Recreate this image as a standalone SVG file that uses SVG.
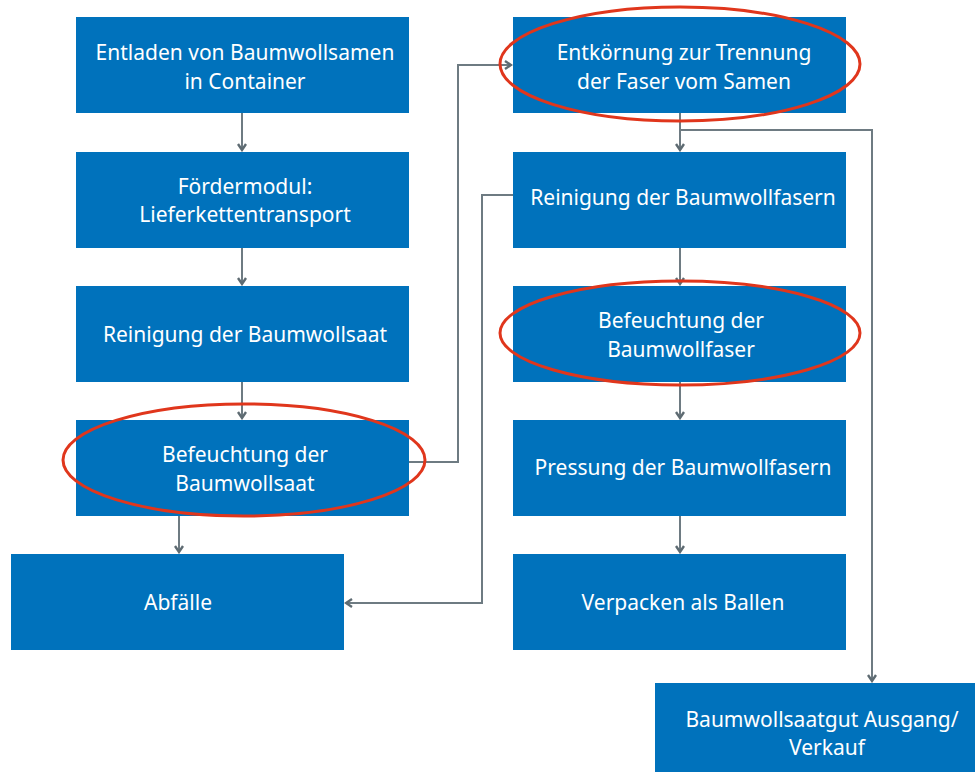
<svg xmlns="http://www.w3.org/2000/svg" width="975" height="772" viewBox="0 0 975 772">
<style>
.box{fill:#0072BC;}
.t{fill:#ffffff;font-family:"Noto Sans","Open Sans",sans-serif;font-size:21px;text-anchor:middle;dominant-baseline:central;}
.c{fill:none;stroke:#6E7B82;stroke-width:2;}
.hl{fill:none;stroke:#E0361C;stroke-width:3;}
</style>
<defs>
<marker id="a" viewBox="0 0 10 10" refX="8" refY="5" markerWidth="10" markerHeight="10" markerUnits="userSpaceOnUse" orient="auto">
<path d="M2,1 L8,5 L2,9" fill="none" stroke="#5E6B72" stroke-width="2.4"/>
</marker>
</defs>
<rect width="975" height="772" fill="#ffffff"/>
<g id="connectors">
<line class="c" x1="242" y1="113" x2="242" y2="150" marker-end="url(#a)"/>
<line class="c" x1="242" y1="248" x2="242" y2="284" marker-end="url(#a)"/>
<line class="c" x1="242" y1="382" x2="242" y2="418" marker-end="url(#a)"/>
<line class="c" x1="179" y1="516" x2="179" y2="552" marker-end="url(#a)"/>
<polyline class="c" points="409,462 458,462 458,65 511,65" marker-end="url(#a)"/>
<line class="c" x1="680" y1="113" x2="680" y2="150" marker-end="url(#a)"/>
<polyline class="c" points="680,130 872,130 872,681" marker-end="url(#a)"/>
<polyline class="c" points="513,195 482,195 482,603 346,603" marker-end="url(#a)"/>
<line class="c" x1="680" y1="248" x2="680" y2="284" marker-end="url(#a)"/>
<line class="c" x1="680" y1="382" x2="680" y2="418" marker-end="url(#a)"/>
<line class="c" x1="680" y1="516" x2="680" y2="552" marker-end="url(#a)"/>
</g>
<g id="n1"><rect class="box" x="76" y="17" width="333" height="96"/><text class="t" x="245" y="52">Entladen von Baumwollsamen</text><text class="t" x="245" y="81">in Container</text></g>
<g id="n2"><rect class="box" x="76" y="152" width="333" height="96"/><text class="t" x="245" y="186">Fördermodul:</text><text class="t" x="245" y="214">Lieferkettentransport</text></g>
<g id="n3"><rect class="box" x="76" y="286" width="333" height="96"/><text class="t" x="245" y="334">Reinigung der Baumwollsaat</text></g>
<g id="n4"><rect class="box" x="76" y="420" width="333" height="96"/><text class="t" x="245" y="454">Befeuchtung der</text><text class="t" x="245" y="483">Baumwollsaat</text></g>
<g id="n5"><rect class="box" x="11" y="554" width="333" height="96"/><text class="t" x="178" y="602">Abfälle</text></g>
<g id="n6"><rect class="box" x="513" y="17" width="333" height="96"/><text class="t" x="684" y="52">Entkörnung zur Trennung</text><text class="t" x="684" y="81">der Faser vom Samen</text></g>
<g id="n7"><rect class="box" x="513" y="152" width="333" height="96"/><text class="t" x="683" y="197">Reinigung der Baumwollfasern</text></g>
<g id="n8"><rect class="box" x="513" y="286" width="333" height="96"/><text class="t" x="681" y="320">Befeuchtung der</text><text class="t" x="681" y="349">Baumwollfaser</text></g>
<g id="n9"><rect class="box" x="513" y="420" width="333" height="96"/><text class="t" x="683" y="467">Pressung der Baumwollfasern</text></g>
<g id="n10"><rect class="box" x="513" y="554" width="333" height="96"/><text class="t" x="683" y="602">Verpacken als Ballen</text></g>
<g id="n11"><rect class="box" x="655" y="683" width="320" height="89"/><text class="t" x="822" y="719">Baumwollsaatgut Ausgang/</text><text class="t" x="827" y="747">Verkauf</text></g>
<g id="highlights">
<ellipse class="hl" cx="680" cy="64" rx="180" ry="57"/>
<ellipse class="hl" cx="680" cy="333" rx="180" ry="52"/>
<ellipse class="hl" cx="244" cy="460" rx="181" ry="56"/>
</g>
</svg>
